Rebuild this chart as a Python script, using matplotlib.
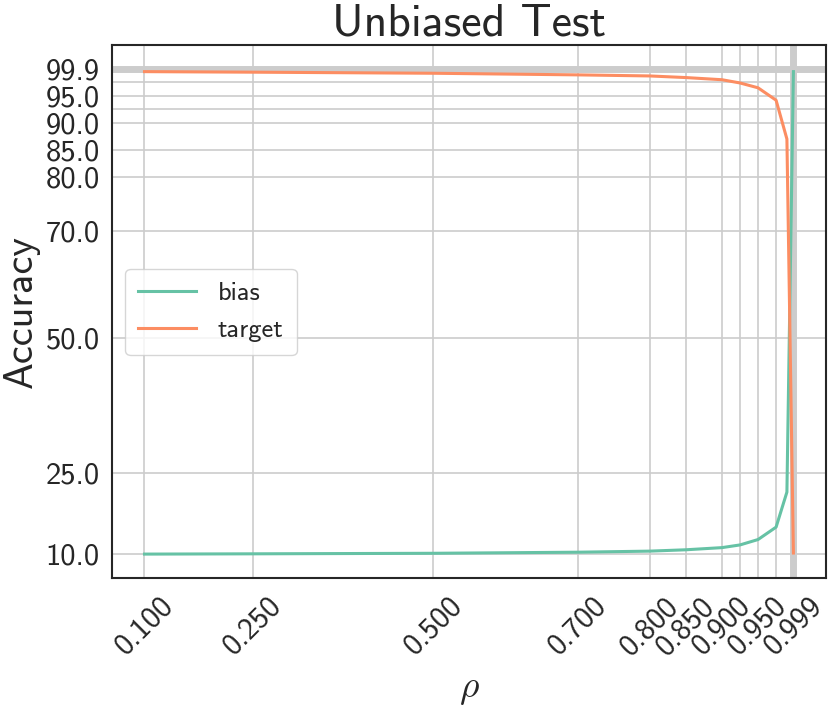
import matplotlib
matplotlib.use('Agg')
import matplotlib.pyplot as plt
from matplotlib.ticker import FixedLocator, FormatStrFormatter

# correlation values and test accuracy (%) of each head
rho = [0.1, 0.25, 0.5, 0.7, 0.8, 0.85, 0.9, 0.925, 0.95, 0.975, 0.99, 0.999]
bias_acc = [10.0, 10.05, 10.15, 10.35, 10.55, 10.8, 11.2, 11.7, 12.7, 15.0, 21.5, 99.5]
target_acc = [99.5, 99.4, 99.2, 98.9, 98.7, 98.4, 98.0, 97.4, 96.5, 94.2, 87.0, 10.2]

x_ticks = [0.1, 0.25, 0.5, 0.7, 0.8, 0.85, 0.9, 0.95, 0.999]
x_minor = [0.925, 0.975]
y_ticks = [10, 25, 50, 70, 80, 85, 90, 95, 99.9]
y_minor = [92.5, 97.5]

plt.rcParams['font.family'] = ['cmss10', 'DejaVu Sans']
plt.rcParams['mathtext.fontset'] = 'cm'
plt.rcParams['axes.unicode_minus'] = False
plt.rcParams['text.color'] = '#262626'
plt.rcParams['axes.labelcolor'] = '#262626'
plt.rcParams['xtick.color'] = '#262626'
plt.rcParams['ytick.color'] = '#262626'

fig = plt.figure(figsize=(8.3, 7.07), dpi=100)
ax = fig.add_axes([0.135, 0.182, 0.86, 0.754])

ax.axhline(99.9, color='#cccccc', lw=5, zorder=1)
ax.axvline(0.999, color='#cccccc', lw=5, zorder=1)
ax.plot(rho, bias_acc, color='#66c2a5', lw=2.2, label='bias', zorder=3)
ax.plot(rho, target_acc, color='#fc8d62', lw=2.2, label='target', zorder=3)

ax.xaxis.set_major_locator(FixedLocator(x_ticks))
ax.xaxis.set_minor_locator(FixedLocator(x_minor))
ax.yaxis.set_major_locator(FixedLocator(y_ticks))
ax.yaxis.set_minor_locator(FixedLocator(y_minor))
ax.xaxis.set_major_formatter(FormatStrFormatter('%.3f'))
ax.yaxis.set_major_formatter(FormatStrFormatter('%.1f'))

ax.grid(True, which='both', color='#cccccc', lw=1.2, zorder=0)
ax.set_axisbelow(True)
ax.tick_params(which='both', length=0, labelsize=22)
ax.tick_params(axis='y', pad=9)
ax.tick_params(axis='x', pad=10)
plt.setp(ax.get_xticklabels(), rotation=45)

for s in ax.spines.values():
    s.set_color('#262626')
    s.set_linewidth(1.5)

ax.set_title('Unbiased Test', fontsize=33, pad=7)
ax.set_ylabel('Accuracy', fontsize=29, labelpad=4)
ax.set_xlabel(r'$\rho$', fontsize=27, labelpad=10)

leg = ax.legend(loc='center left', fontsize=19, frameon=True, fancybox=True,
                edgecolor='#cccccc', handlelength=2.2, borderpad=0.5,
                labelspacing=0.5, handletextpad=0.8)

fig.savefig('out.png', dpi=100)
